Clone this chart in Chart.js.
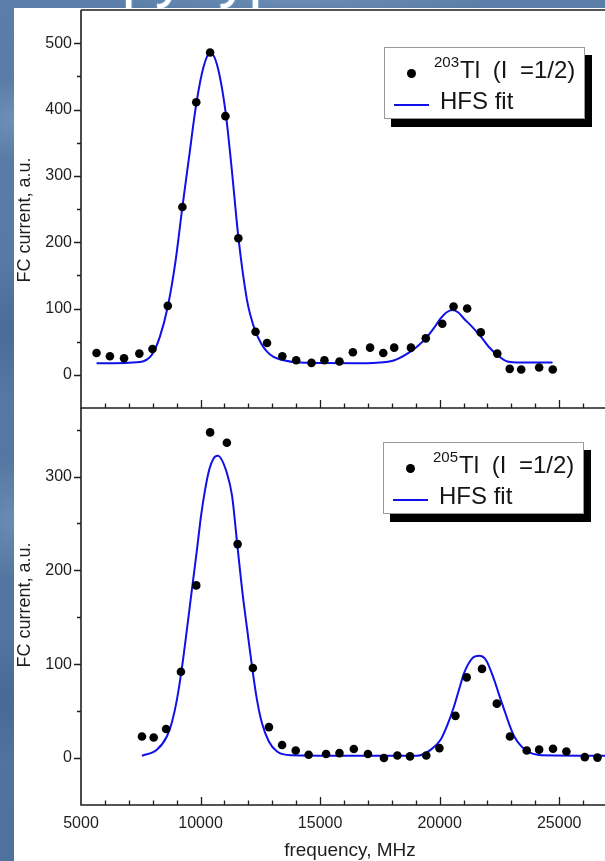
<!DOCTYPE html>
<html>
<head>
<meta charset="utf-8">
<script src="https://cdn.jsdelivr.net/npm/chart.js@4/dist/chart.umd.min.js"></script>
<style>
  html, body { margin: 0; padding: 0; }
  body { width: 605px; height: 861px; overflow: hidden; }
  #stage {
    position: relative; width: 605px; height: 861px; overflow: hidden;
    background-color: #5779a2;
    background-image:
      radial-gradient(ellipse 60px 40px at 20px 120px, rgba(140,170,205,0.45), transparent),
      radial-gradient(ellipse 50px 70px at 8px 330px, rgba(60,95,140,0.5), transparent),
      radial-gradient(ellipse 40px 60px at 10px 520px, rgba(140,170,205,0.4), transparent),
      radial-gradient(ellipse 50px 60px at 6px 700px, rgba(60,95,140,0.5), transparent),
      radial-gradient(ellipse 200px 10px at 300px 2px, rgba(130,160,195,0.4), transparent),
      linear-gradient(180deg, #5b7ea8, #4f729c);
  }
  #title {
    position: absolute; left: 122px; top: -54px; margin: 0;
    font: 60px/60px 'Liberation Sans', Arial, sans-serif; color: #fff;
    text-shadow: 0 0 2px #9fe6ff; white-space: nowrap;
  }
  #panel { position: absolute; left: 14px; top: 8px; width: 620px; height: 880px; background: #fff; }
  canvas { position: absolute; left: 0; }
  .legend {
    position: absolute; width: 199px; height: 70px; background: #fff;
    border: 1px solid #9a9a9a; box-shadow: 7px 8px 0 #000;
    font-family: 'Liberation Sans', Arial, sans-serif; color: #151515;
  }
  .legend .dot { position: absolute; left: 22px; top: 21px; width: 9px; height: 9px; border-radius: 50%; background: #000; }
  .legend .sup { position: absolute; left: 49px; top: 6px; font-size: 15px; line-height: 15px; }
  .legend .lab { position: absolute; left: 75px; top: 10px; font-size: 24px; line-height: 24px; word-spacing: 6px; white-space: nowrap; }
  .legend .line { position: absolute; left: 9px; top: 56px; width: 35px; height: 2px; background: #1010e8; }
  .legend .fit { position: absolute; left: 55px; top: 41px; font-size: 24px; line-height: 24px; white-space: nowrap; }
</style>
</head>
<body>
<div id="stage">
  <div id="title">py type</div>
  <div id="panel"></div>
  <canvas id="topChart" width="640" height="420" style="top:0"></canvas>
  <canvas id="bottomChart" width="640" height="470" style="top:398px"></canvas>
  <div class="legend" style="left:384px; top:47px">
    <span class="dot"></span><span class="sup">203</span><span class="lab">Tl (I =1/2)</span>
    <span class="line"></span><span class="fit">HFS fit</span>
  </div>
  <div class="legend" style="left:383px; top:442px">
    <span class="dot"></span><span class="sup">205</span><span class="lab">Tl (I =1/2)</span>
    <span class="line"></span><span class="fit">HFS fit</span>
  </div>
</div>
<script>
// 203Tl measured points (frequency MHz, FC current a.u.)
const freq203 = [5650, 6210, 6800, 7440, 7990, 8630, 9240, 9820, 10400, 11040, 11580, 12300, 12780, 13420, 14000, 14640, 15180, 15810, 16370, 17090, 17640, 18100, 18800, 19420, 20110, 20580, 21150, 21720, 22410, 22930, 23410, 24160, 24730];
const cur203 = [33, 28, 25, 32, 39, 104, 253, 411, 486, 390, 206, 65, 48, 28, 22, 18, 22, 20, 34, 41, 33, 41, 41, 55, 77, 103, 100, 64, 32, 9, 8, 11, 8];
// 203Tl HFS fit curve
const fitFreq203 = [5650, 7470, 7960, 8300, 8630, 8940, 9240, 9500, 9820, 10120, 10400, 10680, 11040, 11310, 11580, 11940, 12100, 12300, 12540, 12780, 13050, 13420, 14170, 16970, 17500, 18080, 18780, 19100, 19420, 19750, 20040, 20280, 20530, 20780, 21010, 21370, 21720, 22060, 22410, 22830, 23390, 24720];
const fit203 = [17.5, 19.5, 30, 57.6, 103, 168, 253, 323, 408, 463.6, 485, 468.7, 398, 308, 208, 113, 88, 65, 47, 35, 27, 22.5, 18.5, 17.5, 18.5, 21.6, 35, 44, 55, 70, 85, 94, 97.7, 94, 85, 72, 57.6, 42, 30, 20, 18.5, 18.5];

// 205Tl measured points
const freq205 = [7550, 8040, 8560, 9180, 9820, 10400, 11100, 11550, 12190, 12860, 13410, 13980, 14520, 15250, 15810, 16410, 17000, 17670, 18230, 18760, 19440, 19990, 20660, 21130, 21770, 22390, 22940, 23640, 24160, 24740, 25300, 26070, 26600, 27160];
const cur205 = [23, 22, 31, 92, 184, 347, 336, 228, 96, 33, 14, 8, 3.5, 4.3, 5.3, 9.6, 4.3, 0, 2.8, 1.8, 2.8, 10.6, 45, 86, 95, 58, 23, 8, 9, 10, 7, 1, 0.5, 5.5];
// 205Tl HFS fit curve
const fitFreq205 = [7550, 8170, 8590, 8800, 9010, 9220, 9430, 9640, 9850, 10020, 10190, 10370, 10540, 10720, 11110, 11320, 11530, 11740, 11950, 12160, 12360, 12570, 12850, 13200, 13760, 16000, 19060, 19620, 20040, 20320, 20600, 20810, 21020, 21370, 21650, 21930, 22280, 22490, 22700, 22910, 23120, 23400, 23680, 24230, 27500];
const fit205 = [2.5, 8.8, 23, 38, 62, 96, 137, 180, 222, 258, 286, 308, 319, 322, 303, 279, 229, 179, 137, 96, 62, 37, 18, 7, 3, 2.5, 2.5, 8.8, 19.5, 35, 55, 73, 90.5, 106.5, 109, 104.7, 83.4, 67, 51.4, 36, 23, 13, 7, 3, 2.5];

// tick labels
const xTickLabels = [5000, 10000, 15000, 20000, 25000];
const yTicksTop = [0, 100, 200, 300, 400, 500];
const yTicksBottom = [0, 100, 200, 300];

const FONT = "'Liberation Sans', Arial, sans-serif";
const INK = '#1e1e1e';
const BLUE = '#1010e8';

const pairs = (xs, ys) => xs.map((v, i) => ({ x: v, y: ys[i] }));

// axis lines, inward x ticks, outward y ticks (major + minor) and rotated y title
const axisFrame = {
  id: 'axisFrame',
  afterDraw(chart, args, o) {
    const ctx = chart.ctx, a = chart.chartArea;
    const xs = chart.scales.x, ys = chart.scales.y;
    ctx.save();
    ctx.strokeStyle = INK;
    ctx.lineWidth = 1.6;
    ctx.beginPath();
    ctx.moveTo(a.left, a.top);
    ctx.lineTo(a.left, a.bottom);
    ctx.lineTo(chart.width, a.bottom);
    if (o.topLine) {
      ctx.moveTo(a.left, a.top);
      ctx.lineTo(chart.width, a.top);
    }
    ctx.stroke();

    ctx.lineWidth = 1.3;
    ctx.beginPath();
    for (let v = 6000; v <= 27000; v += 1000) {
      const px = Math.round(xs.getPixelForValue(v)) + 0.5;
      const len = v % 5000 === 0 ? 8 : 4.5;
      ctx.moveTo(px, a.bottom);
      ctx.lineTo(px, a.bottom - len);
    }
    for (let v = 0; v < ys.max; v += 50) {
      const py = Math.round(ys.getPixelForValue(v)) + 0.5;
      const len = v % 100 === 0 ? 7 : 4;
      ctx.moveTo(a.left - len, py);
      ctx.lineTo(a.left, py);
    }
    ctx.stroke();

    ctx.translate(o.titleX, o.titleY);
    ctx.rotate(-Math.PI / 2);
    ctx.fillStyle = INK;
    ctx.font = '18px ' + FONT;
    ctx.textAlign = 'center';
    ctx.textBaseline = 'middle';
    ctx.fillText('FC current, a.u.', 0, 0);
    ctx.restore();
  }
};

function yScale(min, max, ticks) {
  return {
    min: min, max: max,
    grid: { display: false, drawTicks: false },
    border: { display: false },
    ticks: { padding: 9, color: INK, font: { family: FONT, size: 16 }, callback: v => String(v) },
    afterBuildTicks: s => { s.ticks = ticks.map(v => ({ value: v })); },
    afterFit: s => { s.width = 81; s.paddingTop = 0; s.paddingBottom = 0; }
  };
}

function datasets(fx, fy, px, py) {
  return [
    { type: 'scatter', data: pairs(px, py), pointRadius: 4.3, pointBackgroundColor: '#000', pointBorderWidth: 0, showLine: false },
    { type: 'line', data: pairs(fx, fy), borderColor: BLUE, borderWidth: 2, pointRadius: 0, cubicInterpolationMode: 'monotone', fill: false }
  ];
}

const topChart = new Chart(document.getElementById('topChart'), {
  type: 'scatter',
  data: { datasets: datasets(fitFreq203, fit203, freq203, cur203) },
  options: {
    responsive: false, animation: false,
    layout: { padding: { left: 0, top: 10, right: 21, bottom: 12 } },
    plugins: { legend: { display: false }, tooltip: { enabled: false },
      axisFrame: { topLine: true, titleX: 25, titleY: 220 } },
    scales: {
      x: { type: 'linear', min: 5000, max: 27500, display: false },
      y: yScale(-50, 550, yTicksTop)
    }
  },
  plugins: [axisFrame]
});

const bottomChart = new Chart(document.getElementById('bottomChart'), {
  type: 'scatter',
  data: { datasets: datasets(fitFreq205, fit205, freq205, cur205) },
  options: {
    responsive: false, animation: false,
    layout: { padding: { left: 0, top: 10, right: 21, bottom: 0 } },
    plugins: { legend: { display: false }, tooltip: { enabled: false },
      axisFrame: { topLine: false, titleX: 25, titleY: 207 } },
    scales: {
      x: {
        type: 'linear', min: 5000, max: 27500,
        grid: { display: false, drawTicks: false },
        border: { display: false },
        ticks: { padding: 9, maxRotation: 0, autoSkip: false, color: INK, font: { family: FONT, size: 16 }, callback: v => String(v) },
        afterBuildTicks: s => { s.ticks = xTickLabels.map(v => ({ value: v })); },
        title: { display: true, text: 'frequency, MHz', color: INK, font: { family: FONT, size: 19 }, padding: { top: 0, bottom: 6 } },
        afterFit: s => { s.height = 63; }
      },
      y: yScale(-50, 373, yTicksBottom)
    }
  },
  plugins: [axisFrame]
});
</script>
</body>
</html>
